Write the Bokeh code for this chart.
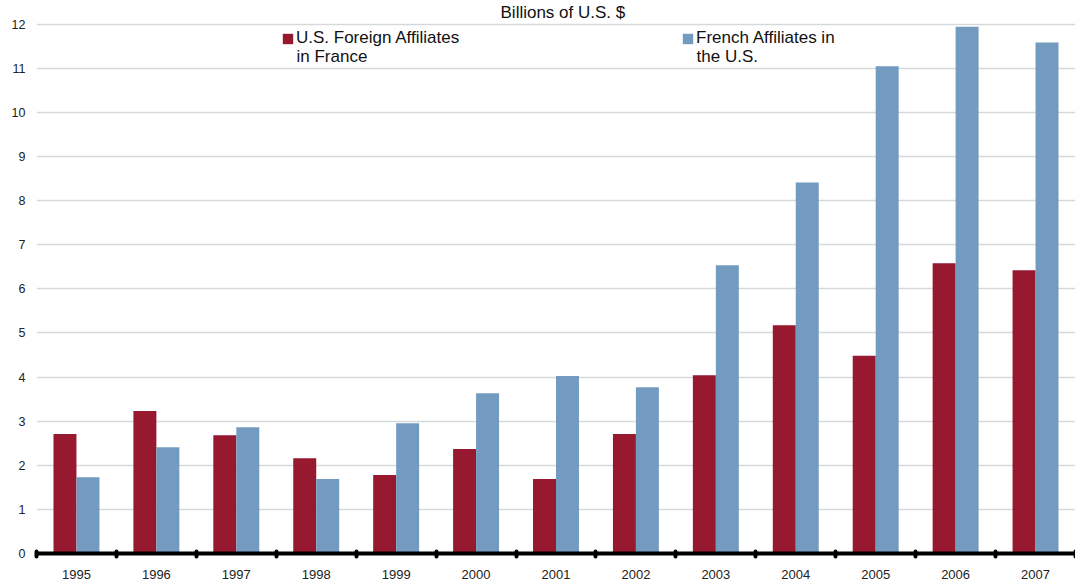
import numpy as np
from bokeh.plotting import figure
from bokeh.models import Range1d, FixedTicker, Label, Legend, LegendItem, ColumnDataSource
from bokeh.embed import file_html
from bokeh.resources import INLINE

years = ["1995", "1996", "1997", "1998", "1999", "2000", "2001",
         "2002", "2003", "2004", "2005", "2006", "2007"]
us_affiliates_in_france = [2.71, 3.23, 2.68, 2.16, 1.78, 2.37, 1.69,
                           2.71, 4.04, 5.17, 4.48, 6.58, 6.42]
french_affiliates_in_us = [1.73, 2.41, 2.86, 1.69, 2.95, 3.63, 4.02,
                           3.77, 6.53, 8.41, 11.04, 11.94, 11.58]
y_ticks = list(range(0, 13))

RED = "#971930"
BLUE = "#729bbf"
FONT = "Liberation Sans"

n = len(years)
idx = np.arange(n)
bw = 0.2875
PX_Y = 44.125   # pixels per unit (for placing annotations)
PX_X = 79.92

src = ColumnDataSource(dict(
    xr=idx + 0.5 - bw / 2,
    xb=idx + 0.5 + bw / 2,
    us=us_affiliates_in_france,
    fr=french_affiliates_in_us,
))

p = figure(width=1075, height=583, x_range=Range1d(0, n), y_range=Range1d(0, 553 / PX_Y),
           output_backend="svg", toolbar_location=None,
           min_border_left=36, min_border_right=0, min_border_top=0, min_border_bottom=30)
p.outline_line_color = None
p.background_fill_color = "white"
p.border_fill_color = "white"

r1 = p.vbar(x="xr", top="us", width=bw, source=src, fill_color=RED, line_color=None)
r2 = p.vbar(x="xb", top="fr", width=bw, source=src, fill_color=BLUE, line_color=None)

# x axis
p.xaxis.ticker = FixedTicker(ticks=[float(i) + 0.5 for i in idx], minor_ticks=list(range(n + 1)))
p.xaxis.major_label_overrides = {float(i) + 0.5: y for i, y in zip(idx, years)}
p.xaxis.axis_line_width = 4
p.xaxis.axis_line_color = "black"
p.xaxis.major_tick_line_color = None
p.xaxis.minor_tick_line_color = "black"
p.xaxis.minor_tick_line_width = 4
p.xaxis.minor_tick_line_cap = "round"
p.xaxis.minor_tick_in = 2
p.xaxis.minor_tick_out = 3
p.xaxis.major_label_standoff = 10
p.xaxis.major_label_text_font = FONT
p.xaxis.major_label_text_font_size = "13px"
p.xaxis.major_label_text_color = "#222222"
p.xgrid.visible = False

# y axis
p.yaxis.ticker = FixedTicker(ticks=y_ticks)
p.yaxis.axis_line_color = None
p.yaxis.major_tick_line_color = None
p.yaxis.minor_tick_line_color = None
p.yaxis.major_tick_in = 0
p.yaxis.major_tick_out = 0
p.yaxis.major_label_standoff = 11
p.yaxis.major_label_text_font = FONT
p.yaxis.major_label_text_font_size = "12.5px"
p.yaxis.major_label_text_color = "#222222"
p.ygrid.ticker = FixedTicker(ticks=y_ticks)
p.ygrid.grid_line_color = "#d6d9d9"
p.ygrid.grid_line_width = 1.5

# subtitle
p.add_layout(Label(x=(500 - 36) / PX_X, y=(553 - 12) / PX_Y, text="Billions of U.S. $",
                   text_align="left", text_baseline="middle",
                   text_font=FONT, text_font_size="17px", text_color="#111111"))

def make_legend(renderer, line1, line2, xpix):
    lg = Legend(items=[LegendItem(label=line1, renderers=[renderer])],
                location=(xpix - 2 - 36, 553 - 28 - 20), orientation="vertical",
                glyph_width=13, glyph_height=13, label_standoff=2,
                padding=0, margin=0, spacing=0,
                border_line_color=None, background_fill_alpha=0,
                label_text_font=FONT, label_text_font_size="17px",
                label_text_color="#111111", label_height=20)
    p.add_layout(lg, "center")
    p.add_layout(Label(x=(xpix + 13 - 36) / PX_X, y=(553 - 56) / PX_Y, text=line2,
                       text_align="left", text_baseline="middle",
                       text_font=FONT, text_font_size="17px", text_color="#111111"))

make_legend(r1, "U.S. Foreign Affiliates", "in France", 283)
make_legend(r2, "French Affiliates in", "the U.S.", 683)

open("out.html", "w").write(file_html(p, INLINE))
